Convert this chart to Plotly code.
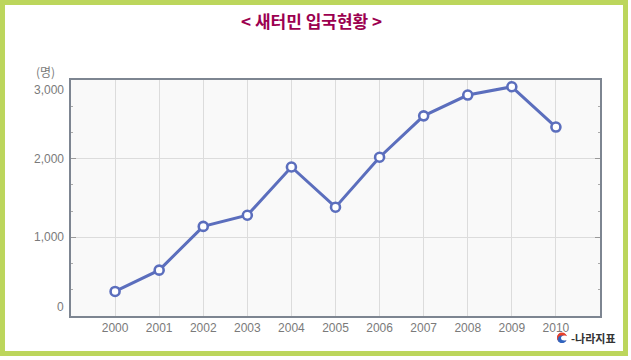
import plotly.graph_objects as go

years = [2000, 2001, 2002, 2003, 2004, 2005, 2006, 2007, 2008, 2009, 2010]
entrants = [312, 583, 1139, 1281, 1894, 1383, 2018, 2544, 2809, 2914, 2402]
y_ticks = [0, 1000, 2000, 3000]
y_tick_text = ["0", "1,000", "2,000", "3,000"]
y_label_shift = [9, 0, 0, -10]
title_text = "< 새터민 입국현황 >"
unit_text = "(명)"
source_text = "-나라지표"

W, H = 631, 360
L, R, T, B = 71, 31, 80, 44
PW, PH = W - L - R, H - T - B

def px(x):
    return (x - L) / PW

def py(y):
    return (H - B - y) / PH

font_fam = "Liberation Sans, DejaVu Sans, sans-serif"
gray = "#7a7a7a"
line_col = "#5b6ebd"

fig = go.Figure()
fig.add_trace(go.Scatter(
    x=years, y=entrants, mode="lines+markers",
    line=dict(color=line_col, width=3),
    marker=dict(symbol="circle", size=9, color="white",
                line=dict(color=line_col, width=2.6)),
    cliponaxis=False, hoverinfo="x+y", showlegend=False,
))

annotations = []
for v, t, s in zip(y_ticks, y_tick_text, y_label_shift):
    annotations.append(dict(
        x=px(66), xref="paper", y=v, yref="y", text=t, showarrow=False,
        xanchor="right", yanchor="middle", yshift=s,
        font=dict(family=font_fam, size=12, color=gray)))
annotations.append(dict(
    x=px(34), xref="paper", y=py(71), yref="paper", text=unit_text,
    showarrow=False, xanchor="left", yanchor="middle",
    font=dict(family="Noto Sans CJK KR, sans-serif", size=12, color=gray)))
annotations.append(dict(
    x=px(311), xref="paper", y=py(20), yref="paper",
    text="<b>" + title_text + "</b>", showarrow=False, xanchor="center", yanchor="middle",
    font=dict(family="Noto Sans CJK KR, sans-serif", size=17, color="#9c0050")))
annotations.append(dict(
    x=px(569), xref="paper", y=py(338), yref="paper",
    text="<b>" + source_text + "</b>", showarrow=False, xanchor="left", yanchor="middle",
    font=dict(family="Noto Sans CJK KR, sans-serif", size=11, color="#333333")))

shapes = []
# outer green frame
shapes.append(dict(type="rect", xref="paper", yref="paper",
                   x0=px(2.5), x1=px(625.5), y0=py(2.5), y1=py(353.5),
                   line=dict(color="#bcd65c", width=5), fillcolor="rgba(0,0,0,0)",
                   layer="below"))
# logo icon
cx, cy, r = 562, 338, 5
shapes.append(dict(type="circle", xref="paper", yref="paper",
                   x0=px(cx - r), x1=px(cx + r), y0=py(cy + r), y1=py(cy - r),
                   line=dict(width=0), fillcolor="#2f64c0"))
shapes.append(dict(type="circle", xref="paper", yref="paper",
                   x0=px(cx - r), x1=px(cx + r), y0=py(cy + r - 0.5), y1=py(cy - r - 0.5),
                   line=dict(width=0), fillcolor="#e8402a"))
shapes.append(dict(type="circle", xref="paper", yref="paper",
                   x0=px(cx - r + 1), x1=px(cx + r - 1), y0=py(cy + r), y1=py(cy - r + 2.5),
                   line=dict(width=0), fillcolor="#2f64c0"))
shapes.append(dict(type="circle", xref="paper", yref="paper",
                   x0=px(cx - 1), x1=px(cx + r + 1), y0=py(cy + 2.5), y1=py(cy - 2.5),
                   line=dict(width=0), fillcolor="white"))

fig.update_layout(
    width=W, height=H,
    margin=dict(l=L, r=R, t=T, b=B, pad=0),
    paper_bgcolor="white", plot_bgcolor="#f9f9f9",
    font=dict(family=font_fam, size=12, color=gray),
    annotations=annotations, shapes=shapes,
    xaxis=dict(
        range=[1999, 2011], tickvals=years, ticktext=[str(y) for y in years],
        showgrid=True, gridcolor="#dcdcdc", gridwidth=1, zeroline=False,
        showline=True, linecolor="#7d8591", linewidth=1.5, mirror=True,
        ticks="", tickfont=dict(family=font_fam, size=12, color=gray),
        ticklabelstandoff=0, fixedrange=True,
    ),
    yaxis=dict(
        range=[0, 3000], tickvals=y_ticks, showticklabels=False,
        showgrid=True, gridcolor="#dcdcdc", gridwidth=1, zeroline=False,
        showline=True, linecolor="#7d8591", linewidth=1.5, mirror="allticks",
        ticks="inside", ticklen=5, tickcolor="#999999", tickwidth=1,
        minor=dict(dtick=1000 / 3, tick0=0, ticks="inside", ticklen=2,
                   tickcolor="#aaaaaa", tickwidth=1, showgrid=False),
        fixedrange=True,
    ),
)

fig.write_html("out.html", config={"displayModeBar": False},
               post_script="document.body.style.margin='0';")
